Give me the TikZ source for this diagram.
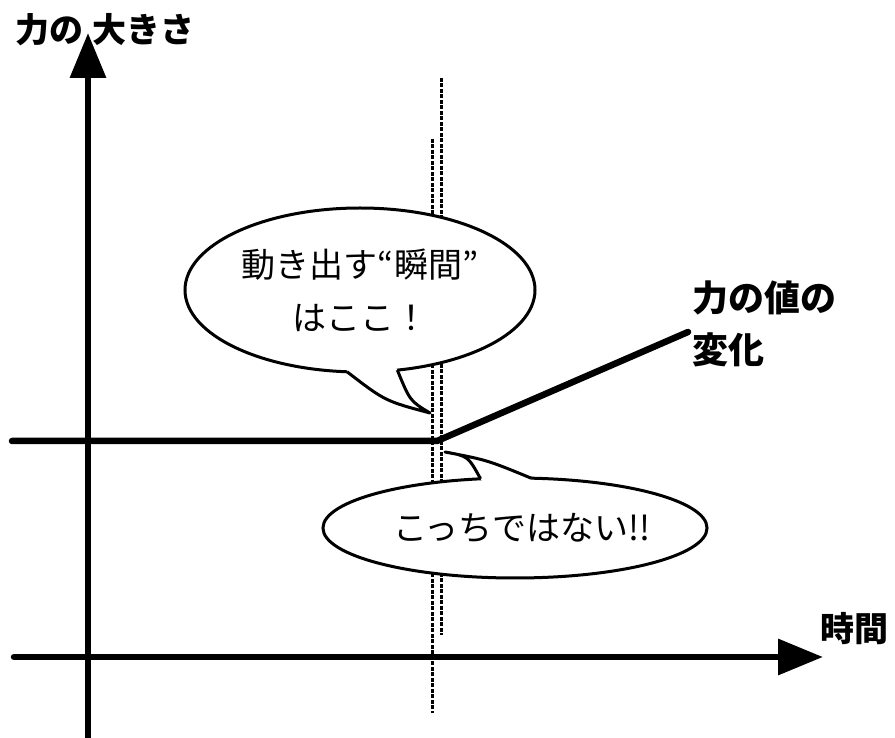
\documentclass[tikz,border=0pt]{standalone}
\usepackage{fontspec}
\newfontfamily\jpfont{Noto Sans CJK JP}
\usetikzlibrary{arrows.meta}
\usetikzlibrary{calc}
\usetikzlibrary{shapes.geometric}

\begin{document}
\begin{tikzpicture}[x=1pt,y=1pt,
    axis/.style={line width=6.5pt,line cap=round,-{Triangle[length=45pt,width=35pt]}},
    guide/.style={line width=3pt,dash pattern=on 4pt off 1.5pt},
    bubble/.style={draw,fill=white,ellipse,line width=3pt,outer sep=0pt,inner sep=0pt,
      align=center,font=\jpfont\fontsize{34}{53}\selectfont},
    lbl/.style={inner sep=0pt,anchor=west,font=\jpfont\bfseries\fontsize{34}{52}\selectfont}]
        \def\lw{3pt}
        \useasboundingbox (0,0) rectangle (895,737);
        \coordinate (d1t) at (441,659);
        \coordinate (d1b) at (441,102);
        \coordinate (d2t) at (432,598);
        \coordinate (d2b) at (432,24);
        \draw[guide] (d1t) -- (d1b);
        \draw[guide] (d2t) -- (d2b);
        \coordinate (yb) at (88,-5);
        \coordinate (yt) at (88,704);
        \coordinate (xl) at (14,80);
        \coordinate (xr) at (823,80);
        \draw[axis] (yb) -- (yt);
        \draw[axis] (xl) -- (xr);
        \coordinate (fl) at (12,296);
        \coordinate (kink) at (437,296);
        \coordinate (fe) at (688,405);
        \draw[line width=6.5pt,line cap=round,line join=round] (fl) -- (kink) -- (fe);
        \node[bubble,minimum width=350pt,minimum height=164pt] (c1) at (360,447)
          {動き出す“瞬間”\\はここ！};
        \coordinate (p1) at (430,324);
        \fill[white] (c1.-99) .. controls (385,336) .. (p1) .. controls (410,336) .. (c1.-65)
          -- ($(c1.-65)!4pt!(c1.center)$) -- ($(c1.-99)!4pt!(c1.center)$) -- cycle;
        \draw[line width=\lw,line join=round] (c1.-99) .. controls (385,336) .. (p1)
          .. controls (410,336) .. (c1.-65);
        \node[bubble,minimum width=354pt,minimum height=100pt] (c2) at (515,209)
          {\hspace{14pt}こっちではない!!};
        \coordinate (p2) at (445,285);
        \fill[white] (c2.125) .. controls (468,281) .. (p2) .. controls (487,277) .. (c2.72)
          -- ($(c2.72)!4pt!(c2.center)$) -- ($(c2.125)!4pt!(c2.center)$) -- cycle;
        \draw[line width=\lw,line join=round] (c2.125) .. controls (468,281) .. (p2)
          .. controls (487,277) .. (c2.72);
        \node[lbl] (ylab) at (15,707) {力の\hspace{9pt}大きさ};
        \node[lbl,align=left,font=\jpfont\bfseries\fontsize{36}{52}\selectfont] (flab) at (692,413)
          {力の値の\\変化};
        \node[lbl] (xlab) at (820,108) {時間};
      \end{tikzpicture}
\end{document}
